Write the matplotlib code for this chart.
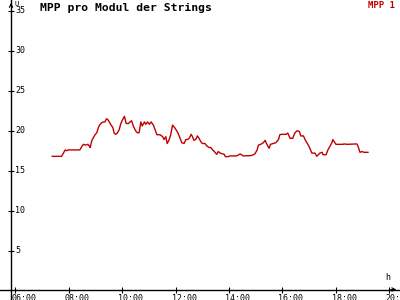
import matplotlib
matplotlib.use("Agg")
import matplotlib.pyplot as plt

# MPP 1 trace (time of day, value)
times = [
    "07:23", "07:44", "07:48", "07:52", "07:55", "07:59", "08:25", "08:29",
    "08:33", "08:38", "08:43", "08:46", "08:48", "08:52", "08:55", "08:59",
    "09:03", "09:06", "09:09", "09:14", "09:18", "09:21", "09:25", "09:29",
    "09:34", "09:39", "09:42", "09:45", "09:49", "09:53", "09:57", "10:01",
    "10:05", "10:09", "10:14", "10:18", "10:21", "10:25", "10:30", "10:34",
    "10:38", "10:42", "10:45", "10:50", "10:53", "10:57", "11:01", "11:05",
    "11:10", "11:14", "11:18", "11:25", "11:31", "11:34", "11:38", "11:41",
    "11:45", "11:49", "11:53", "11:59", "12:05", "12:10", "12:14", "12:19",
    "12:23", "12:27", "12:31", "12:35", "12:38", "12:41", "12:45", "12:49",
    "12:52", "12:57", "13:00", "13:06", "13:10", "13:15", "13:19", "13:23",
    "13:27", "13:32", "13:36", "13:40", "13:49", "13:52", "13:57", "14:02",
    "14:17", "14:25", "14:32", "14:51", "14:58", "15:03", "15:06", "15:11",
    "15:17", "15:21", "15:24", "15:30", "15:33", "15:39", "15:45", "15:51",
    "15:54", "15:58", "16:08", "16:12", "16:17", "16:23", "16:28", "16:33",
    "16:38", "16:41", "16:47", "16:52", "16:57", "17:00", "17:06", "17:13",
    "17:17", "17:24", "17:29", "17:31", "17:38", "17:42", "17:51", "17:53",
    "18:00", "18:05", "18:16", "18:18", "18:25", "18:47", "18:50", "18:54",
    "18:59", "19:03", "19:12",
]
values = [
    16.8, 16.8, 17.2, 17.6, 17.5, 17.6, 17.6, 18.0,
    18.3, 18.2, 18.3, 18.1, 17.9, 18.8, 19.1, 19.5,
    19.75, 20.3, 20.7, 21.0, 21.1, 21.1, 21.5, 21.3,
    20.8, 20.4, 19.7, 19.55, 19.7, 20.1, 20.9, 21.4,
    21.8, 20.9, 20.9, 21.1, 21.25, 20.6, 20.0, 19.75,
    19.75, 21.1, 20.6, 21.1, 20.8, 21.1, 20.8, 21.1,
    20.7, 20.1, 19.5, 19.5, 19.25, 18.9, 19.25, 18.4,
    18.8, 19.5, 20.7, 20.3, 19.75, 19.05, 18.5, 18.4,
    18.9, 18.9, 19.1, 19.55, 19.25, 18.8, 18.9, 19.35,
    19.1, 18.6, 18.4, 18.4, 18.1, 17.9, 17.9, 17.6,
    17.4, 17.05, 17.4, 17.2, 17.05, 16.75, 16.75, 16.85,
    16.85, 17.1, 16.85, 16.9, 17.1, 17.6, 18.2, 18.3,
    18.5, 18.8, 18.4, 17.8, 18.3, 18.4, 18.5, 18.9,
    19.5, 19.55, 19.55, 19.7, 19.05, 19.05, 19.75, 20.0,
    19.9, 19.35, 19.35, 18.75, 18.3, 18.0, 17.2, 17.2,
    16.8, 17.2, 17.3, 17.0, 17.0, 17.6, 18.5, 18.9,
    18.3, 18.3, 18.3, 18.35, 18.3, 18.35, 18.0, 17.3,
    17.4, 17.3, 17.3,
]

x_ticks = [6, 8, 10, 12, 14, 16, 18, 20]
x_labels = ["06:00", "08:00", "10:00", "12:00", "14:00", "16:00", "18:00", "20:00"]
y_ticks = [5, 10, 15, 20, 25, 30, 35]

red = "#c00000"
mono = "DejaVu Sans Mono"

hours = [int(t[:2]) + int(t[3:]) / 60 for t in times]

fig = plt.figure(figsize=(4, 3), dpi=100)
ax = fig.add_axes([0, 0, 1, 1])
ax.set_xlim(5.427, 20.398)
ax.set_ylim(-1.16, 36.34)

y_axis_x = 5.84

ax.plot(hours, values, color=red, lw=1.0)

# axes with crossing ticks
for s in ["top", "right"]:
    ax.spines[s].set_visible(False)
ax.spines["left"].set_position(("data", y_axis_x))
ax.spines["bottom"].set_position(("data", 0.15))
ax.spines["left"].set_linewidth(1.0)
ax.spines["bottom"].set_linewidth(1.0)
ax.set_xticks(x_ticks)
ax.set_yticks(y_ticks)
ax.tick_params(direction="inout", length=5, width=0.8,
               labelleft=False, labelbottom=False)

for y in y_ticks:
    ax.annotate(str(y), (y_axis_x, y), xytext=(4, 0), textcoords="offset pixels",
                ha="left", va="center", fontsize=6, family=mono)
for x, lab in zip(x_ticks, x_labels):
    ax.annotate(lab, (x, 0.15), xytext=(-4, -4), textcoords="offset pixels",
                ha="left", va="top", fontsize=6, family=mono)

# arrow heads
ax.annotate("", xy=(y_axis_x, 1.0), xytext=(y_axis_x, 0.97),
            xycoords=("data", "axes fraction"),
            arrowprops=dict(arrowstyle="->", lw=0.8, mutation_scale=6))
ax.annotate("", xy=(0.998, 0.15), xytext=(0.97, 0.15),
            xycoords=("axes fraction", "data"),
            arrowprops=dict(arrowstyle="->", lw=0.8, mutation_scale=6))

ax.text(0.035, 0.995, "U", transform=ax.transAxes, fontsize=5, family=mono,
        ha="left", va="top")
ax.text(0.963, 0.06, "h", transform=ax.transAxes, fontsize=6, family=mono,
        ha="left", va="bottom")

fig.text(0.1, 0.975, "MPP pro Modul der Strings", fontsize=8.2, family=mono,
         weight="bold", ha="left", va="center")
fig.text(0.988, 0.998, "MPP 1", fontsize=6.5, family=mono, weight="bold",
         color=red, ha="right", va="top")

fig.savefig("out.png", dpi=100)
